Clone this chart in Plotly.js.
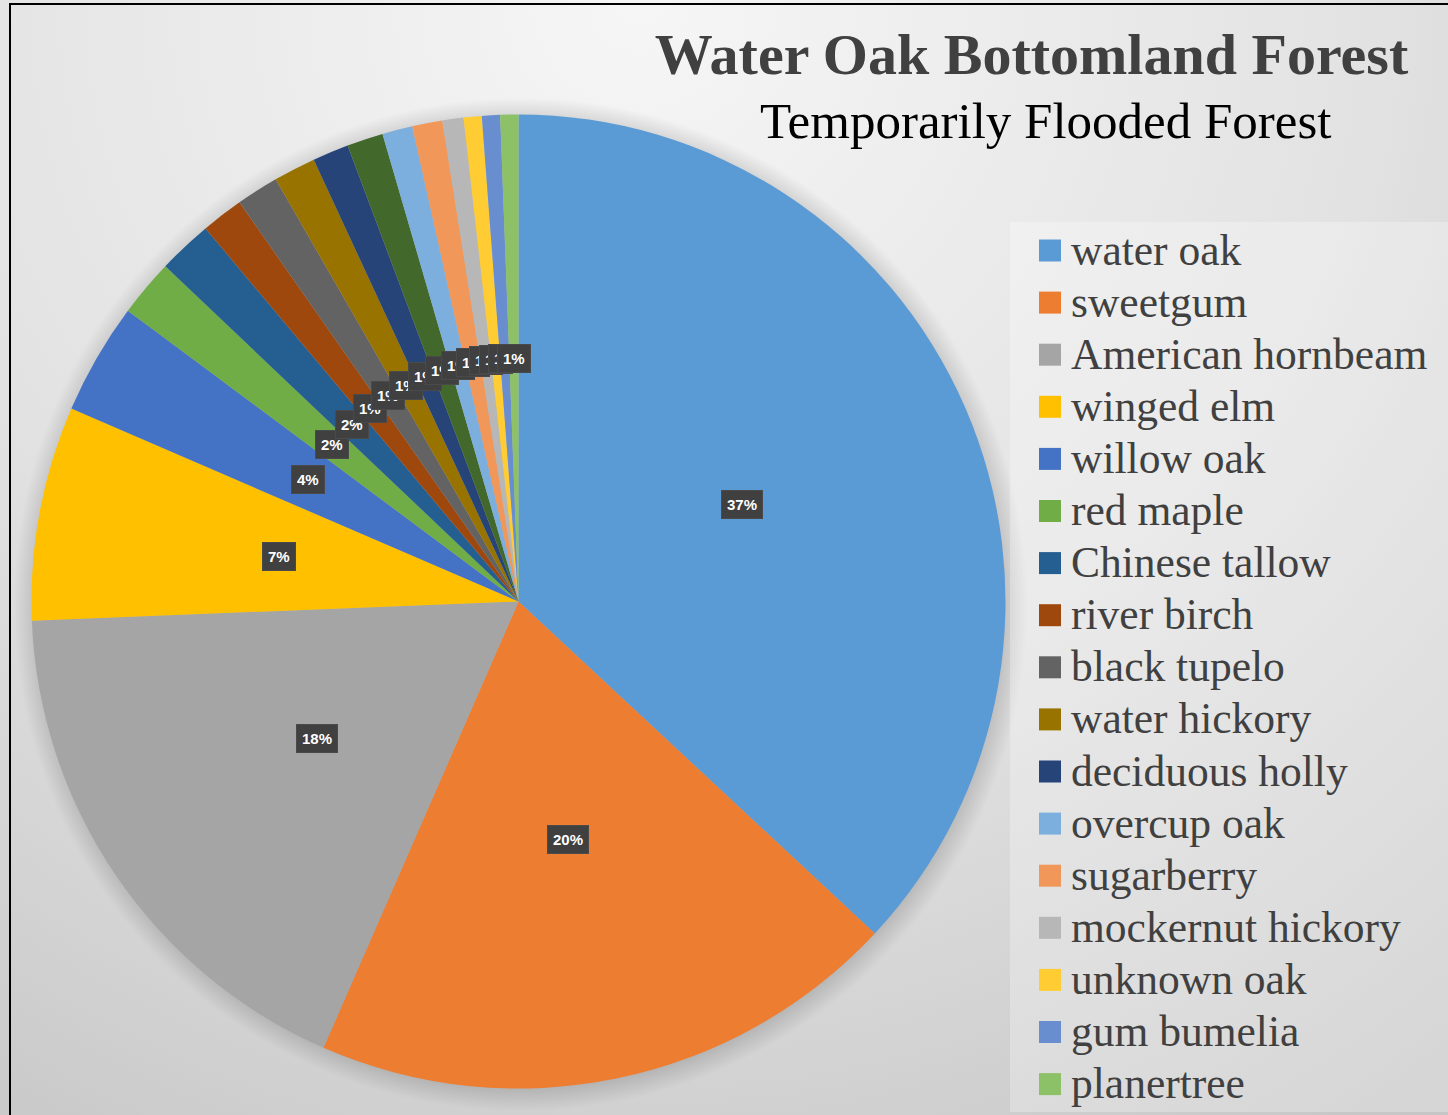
<!DOCTYPE html>
<html>
<head>
<meta charset="utf-8">
<script src="https://cdn.plot.ly/plotly-3.0.1.min.js"></script>
<style>
  html, body { margin: 0; padding: 0; background: #ffffff; }
  #chart { width: 1448px; height: 1115px; }
</style>
</head>
<body>
<div id="chart"></div>
<script>
// ---- data (percent of total) ----
const species = [
  "water oak", "sweetgum", "American hornbeam", "winged elm", "willow oak",
  "red maple", "Chinese tallow", "river birch", "black tupelo", "water hickory",
  "deciduous holly", "unlisted species", "overcup oak", "sugarberry",
  "mockernut hickory", "unknown oak", "gum bumelia", "planertree"
];
const shares = [
  36.9, 19.6, 17.8, 7.1, 3.7,
  1.9, 1.8, 1.4, 1.4, 1.4,
  1.2, 1.2, 1.0, 1.0,
  0.7, 0.6, 0.6, 0.6
];
// the reference legend omits the 12th (dark green) slice
const inLegend = [1,1,1,1,1, 1,1,1,1,1, 1,0,1,1, 1,1,1,1];
const colors = [
  "#5B9BD5", "#ED7D31", "#A5A5A5", "#FFC000", "#4472C4",
  "#70AD47", "#255E91", "#9E480E", "#636363", "#997300",
  "#264478", "#43682B", "#7CAFDD", "#F1975A",
  "#B7B7B7", "#FFCD33", "#698ED0", "#8CC168"
];
const titleText = "Water Oak Bottomland Forest";
const subtitleText = "Temporarily Flooded Forest";

// ---- layout constants ----
const W = 1448, H = 1115;
const cx = 518.5, cy = 601.5, R = 487;   // pie centre / radius in px
const serif = "'Liberation Serif', 'Times New Roman', Times, serif";

const domain = {
  x: [(cx - R) / W, (cx + R) / W],
  y: [(H - cy - R) / H, (H - cy + R) / H]
};

const trace = {
  type: "pie",
  labels: species,
  values: shares,
  marker: { colors: colors, line: { width: 0 } },
  sort: false,
  direction: "clockwise",
  rotation: 0,
  textinfo: "none",
  hoverinfo: "label+percent",
  showlegend: false,
  domain: domain
};

// ---- data labels (dark boxes at half radius on each slice's mid-angle) ----
const total = shares.reduce((a, b) => a + b, 0);
const annotations = [];
const shapes = [];
let cum = 0;
shares.forEach((v, i) => {
  const mid = (cum + v / 2) / total * 2 * Math.PI;
  cum += v;
  const px = cx + 0.5 * R * Math.sin(mid);
  const py = cy - 0.5 * R * Math.cos(mid);
  annotations.push({
    xref: "paper", yref: "paper", x: px / W, y: 1 - py / H,
    xanchor: "center", yanchor: "middle", showarrow: false,
    text: "<b>" + Math.round(v / total * 100) + "%</b>",
    font: { family: "'Liberation Sans', Arial, sans-serif", size: 15, color: "#ffffff" },
    bgcolor: "#404040", bordercolor: "#4a4a4a", borderwidth: 1, borderpad: 5
  });
});

// ---- legend box + entries ----
shapes.push({
  type: "rect", xref: "paper", yref: "paper", layer: "below",
  x0: 1010 / W, x1: 1 + 2 / W, y0: 1 - 1112 / H, y1: 1 - 222 / H,
  fillcolor: "rgba(255,255,255,0.28)", line: { width: 0 }
});
let row = 0;
species.forEach((name, i) => {
  if (!inLegend[i]) return;
  const yc = 250.5 + row * 52.1;
  row++;
  shapes.push({
    type: "rect", xref: "paper", yref: "paper",
    x0: 1039 / W, x1: 1061 / W, y0: 1 - (yc + 11) / H, y1: 1 - (yc - 11) / H,
    fillcolor: colors[i], line: { width: 0 }
  });
  annotations.push({
    xref: "paper", yref: "paper", x: 1069 / W, y: 1 - (yc - 1) / H,
    xanchor: "left", yanchor: "middle", showarrow: false,
    text: name, font: { family: serif, size: 43.5, color: "#404040" }
  });
});

// subtitle
annotations.push({
  xref: "paper", yref: "paper", x: 1046 / W, y: 1 - 121 / H,
  xanchor: "center", yanchor: "middle", showarrow: false,
  text: subtitleText, font: { family: serif, size: 51, color: "#000000" }
});

// outer frame
shapes.push({
  type: "rect", xref: "paper", yref: "paper",
  x0: 10 / W, x1: 1 + 5 / W, y0: -5 / H, y1: 1 - 4 / H,
  line: { color: "#000000", width: 2 }, fillcolor: "rgba(0,0,0,0)"
});

// background gradient + soft pie shadow (decorative image)
const bgSvg =
  '<svg xmlns="http://www.w3.org/2000/svg" width="' + W + '" height="' + H + '">' +
  '<defs>' +
  '<radialGradient id="g" gradientUnits="userSpaceOnUse" cx="640" cy="0" r="1350">' +
  '<stop offset="0" stop-color="#f6f6f6"/><stop offset="0.55" stop-color="#e2e2e2"/><stop offset="1" stop-color="#c6c6c6"/></radialGradient>' +
  '<radialGradient id="s" gradientUnits="userSpaceOnUse" cx="' + (cx + 2) + '" cy="' + (cy + 3) + '" r="' + (R + 20) + '">' +
  '<stop offset="0.93" stop-color="#000" stop-opacity="0.22"/><stop offset="1" stop-color="#000" stop-opacity="0"/></radialGradient>' +
  '</defs>' +
  '<rect x="0" y="0" width="' + W + '" height="' + H + '" fill="url(#g)"/>' +
  '<circle cx="' + (cx + 2) + '" cy="' + (cy + 3) + '" r="' + (R + 20) + '" fill="url(#s)"/>' +
  '</svg>';

const layout = {
  width: W, height: H,
  margin: { l: 0, r: 0, t: 0, b: 0, pad: 0 },
  paper_bgcolor: "#ffffff",
  showlegend: false,
  title: {
    text: "<b>" + titleText + "</b>",
    font: { family: serif, size: 58, color: "#404040" },
    x: 1031.5 / W, xanchor: "center", xref: "paper",
    y: 1 - 54 / H, yanchor: "middle", yref: "container"
  },
  images: [{
    source: "data:image/svg+xml;charset=utf-8," + encodeURIComponent(bgSvg),
    xref: "paper", yref: "paper", x: 0, y: 1, sizex: 1, sizey: 1,
    xanchor: "left", yanchor: "top", sizing: "stretch", layer: "below"
  }],
  shapes: shapes,
  annotations: annotations
};

Plotly.newPlot("chart", [trace], layout, { displayModeBar: false, staticPlot: true });
</script>
</body>
</html>
